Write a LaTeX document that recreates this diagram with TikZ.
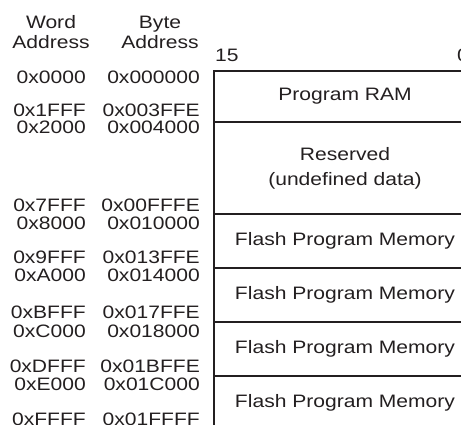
\documentclass[tikz,border=0pt]{standalone}
\usepackage{fontspec}
\setmainfont{Liberation Sans}[FakeStretch=1.17]
\definecolor{inkgray}{HTML}{231F20}
\tikzset{basic/.style={text=inkgray,font=\fontsize{18}{20}\selectfont,inner sep=0pt}}
\tikzset{region/.style={basic,draw=inkgray,line width=2pt,minimum width=262pt,
                        align=center,anchor=north west}}
\tikzset{wordaddr/.style={basic,anchor=east}}
\tikzset{byteaddr/.style={basic,anchor=east}}
\tikzset{heading/.style={basic,align=center}}

\begin{document}
\begin{tikzpicture}[x=1pt,y=-1pt]
        \useasboundingbox (0,0) rectangle (461,425);
        % memory regions
        \foreach \ytop/\hgt/\txt [count=\ri] in {70/51/{Program RAM},
              121/92/{Reserved\\[5pt](undefined data)},
              213/54/{Flash Program Memory},267/54/{Flash Program Memory},
              321/54/{Flash Program Memory},375/54/{Flash Program Memory}}{%
              \node[region,minimum height=\hgt pt] (r\ri) at (213,\ytop) {\txt};
            }
        % addresses
        \foreach \y/\wa/\ba [count=\ai] in {77/0x0000/0x000000,110/0x1FFF/0x003FFE,
              127/0x2000/0x004000,205/0x7FFF/0x00FFFE,223/0x8000/0x010000,
              257/0x9FFF/0x013FFE,275/0xA000/0x014000,312/0xBFFF/0x017FFE,
              331/0xC000/0x018000,366/0xDFFF/0x01BFFE,384/0xE000/0x01C000,
              419/0xFFFF/0x01FFFF}{%
              \node[wordaddr] (w\ai) at (86,\y) {\wa};
              \node[byteaddr] (b\ai) at (200,\y) {\ba};
            }
        % Labels
        \node[heading] (wordhead) at (51,32) {Word\\Address};
        \node[heading] (bytehead) at (160,32) {Byte\\Address};
        \node[basic,anchor=west] (msb) at (215,55) {15};
        \node[basic,anchor=west] (lsb) at (457,55) {0};
\end{tikzpicture}
\end{document}
